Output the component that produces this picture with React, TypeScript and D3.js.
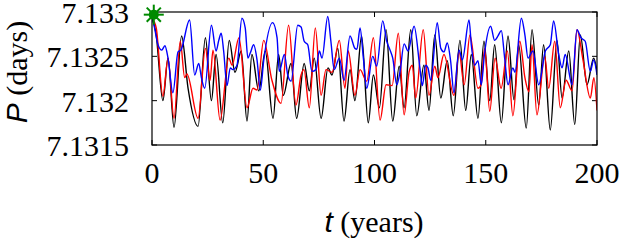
import React from 'react';
import * as d3 from 'd3';

// values: [t (years), P (days)]
const blackSeries: [number, number][] = [
  [0, 7.13293], [1.8, 7.13276], [4.9, 7.132], [7.2, 7.13248], [9.9, 7.1317], [13.3, 7.13273],
  [16.2, 7.13214], [20.7, 7.13171], [24.0, 7.13271], [26.7, 7.132], [28.8, 7.13252], [31.8, 7.13175],
  [34.7, 7.13268], [37.3, 7.13232], [40.1, 7.13256], [42.7, 7.13177], [44.9, 7.13252], [48.0, 7.13211],
  [50.9, 7.13256], [54.4, 7.1318], [56.9, 7.13252], [59.0, 7.13206], [62.5, 7.13242], [65.0, 7.1318],
  [68.4, 7.13242], [70.7, 7.13211], [72.9, 7.13248], [76.0, 7.1318], [79.1, 7.13237], [80.9, 7.13229],
  [83.5, 7.13259], [86.3, 7.13177], [89.0, 7.13235], [91.2, 7.132], [94.2, 7.13273], [97.2, 7.13175],
  [99.5, 7.13229], [102.2, 7.13192], [105.2, 7.1328], [108.2, 7.13177], [111.1, 7.13239], [113.3, 7.13192],
  [116.3, 7.1328], [119.0, 7.13183], [122.2, 7.1324], [124.5, 7.13189], [127.1, 7.13274], [129.8, 7.13203],
  [132.7, 7.13245], [135.4, 7.13183], [138.4, 7.13268], [141.0, 7.13189], [143.5, 7.13252], [146.5, 7.1318],
  [149.2, 7.13267], [151.8, 7.132], [154.0, 7.13263], [157.0, 7.13175], [160.0, 7.13273], [162.7, 7.13201],
  [164.8, 7.13263], [168.2, 7.13169], [170.8, 7.1328], [173.8, 7.13195], [176.0, 7.13263], [179.0, 7.13167],
  [182.0, 7.13268], [184.3, 7.13203], [187.3, 7.13256], [190.0, 7.13173], [192.5, 7.13274], [195.5, 7.13218],
  [198.5, 7.13248], [200, 7.13233],
];

const redSeries: [number, number][] = [
  [0, 7.13293], [1.9, 7.13282], [4.9, 7.13205], [7.2, 7.13248], [9.9, 7.1318], [12.7, 7.13267],
  [14.7, 7.13226], [15.7, 7.1323], [20.7, 7.1318], [24.0, 7.13259], [26.1, 7.13223], [27.4, 7.13257],
  [30.6, 7.13178], [34.5, 7.13248], [36.0, 7.1324], [39.1, 7.13271], [42.7, 7.13192], [45.4, 7.13214],
  [47.2, 7.13212], [50.2, 7.13268], [53.9, 7.13223], [58.0, 7.13197], [61.4, 7.13285], [64.7, 7.13195],
  [67.0, 7.13229], [68.3, 7.13235], [70.7, 7.13192], [73.4, 7.13282], [76.0, 7.13206], [78.2, 7.13235],
  [80.9, 7.13232], [84.2, 7.13268], [86.7, 7.13214], [88.2, 7.13256], [91.2, 7.13206], [93.5, 7.13235],
  [96.5, 7.13222], [99.5, 7.13271], [102.5, 7.13178], [105.2, 7.13218], [107.9, 7.13217], [110.7, 7.13276],
  [113.3, 7.13184], [115.6, 7.13233], [117.0, 7.1324], [118.5, 7.13203], [121.9, 7.1328], [124.5, 7.13206],
  [127.1, 7.13239], [128.5, 7.13226], [131.2, 7.13252], [135.7, 7.13206], [138.0, 7.13255], [140.3, 7.13218],
  [142.9, 7.13274], [146.5, 7.13214], [147.9, 7.13218], [149.5, 7.13259], [151.8, 7.13188], [154.2, 7.13248],
  [156.9, 7.13214], [159.7, 7.13256], [162.2, 7.13183], [165.3, 7.13267], [167.6, 7.13226], [169.4, 7.1321],
  [170.8, 7.13263], [173.0, 7.13184], [176.5, 7.1325], [178.3, 7.13214], [181.0, 7.13267], [183.5, 7.13192],
  [186.1, 7.13223], [188.8, 7.13211], [191.0, 7.1328], [193.7, 7.13246], [197.0, 7.13203], [198.6, 7.13226],
  [200, 7.13189],
];

const blueSeries: [number, number][] = [
  [0, 7.13298], [1.3, 7.1328], [2.7, 7.13263], [4.4, 7.13257], [5.8, 7.13262], [7.2, 7.13248],
  [9.4, 7.13209], [11.7, 7.13255], [13.0, 7.13257], [16.9, 7.13291], [19.2, 7.13229], [21.0, 7.13242],
  [22.2, 7.13226], [23.7, 7.13214], [26.7, 7.13285], [28.8, 7.13256], [30.0, 7.13268], [31.1, 7.13276],
  [32.2, 7.13256], [33.7, 7.13217], [35.2, 7.13237], [36.3, 7.13235], [38.2, 7.1324], [40.4, 7.13293],
  [41.9, 7.13282], [43.1, 7.13248], [44.2, 7.13254], [45.7, 7.13263], [47.2, 7.13246], [48.7, 7.13212],
  [50.2, 7.13245], [54.2, 7.13288], [56.2, 7.13271], [57.2, 7.13233], [59.5, 7.13252], [61.0, 7.13229],
  [62.5, 7.13222], [65.5, 7.13285], [67.0, 7.13283], [68.4, 7.13267], [70.0, 7.13263], [71.9, 7.13233],
  [73.7, 7.13235], [75.2, 7.13256], [76.4, 7.13248], [79.0, 7.13295], [80.4, 7.13267], [81.9, 7.13235],
  [84.2, 7.13248], [86.3, 7.13223], [89.0, 7.13273], [91.2, 7.13259], [92.1, 7.13258], [93.5, 7.13282],
  [95.0, 7.13248], [96.5, 7.13214], [99.2, 7.1325], [101.0, 7.13239], [103.7, 7.1329], [105.5, 7.13267],
  [107.0, 7.13257], [108.2, 7.13248], [110.0, 7.13218], [111.5, 7.13233], [113.3, 7.13264], [115.1, 7.13256],
  [117.8, 7.13284], [120.4, 7.13237], [121.5, 7.13217], [123.0, 7.1324], [124.0, 7.13237], [125.3, 7.13223],
  [128.2, 7.13288], [129.8, 7.13259], [131.2, 7.13255], [132.7, 7.13265], [134.2, 7.13245], [135.7, 7.13209],
  [138.0, 7.13257], [139.5, 7.13246], [142.5, 7.13291], [143.5, 7.13263], [145.0, 7.1324], [146.5, 7.13245],
  [148.0, 7.13218], [149.4, 7.13252], [152.2, 7.13284], [154.0, 7.13268], [155.5, 7.13273], [157.0, 7.13279],
  [158.5, 7.13248], [160.0, 7.13218], [162.2, 7.13237], [163.1, 7.13232], [166.0, 7.13293], [167.6, 7.13274],
  [169.0, 7.13248], [171.2, 7.13256], [173.8, 7.13218], [176.8, 7.13256], [179.0, 7.13263], [180.5, 7.1329],
  [182.8, 7.13252], [184.3, 7.13237], [185.7, 7.13252], [188.8, 7.13218], [191.0, 7.1328], [192.8, 7.13271],
  [194.7, 7.13267], [197.0, 7.13233], [198.5, 7.13246], [200, 7.13229],
];

// green star marker
const starPoint: [number, number] = [0.8, 7.13297];

const xTicks = [0, 50, 100, 150, 200];
const yTicks = [7.1315, 7.132, 7.1325, 7.133];
const yTickLabels = ['7.1315', '7.132', '7.1325', '7.133'];

const W = 627;
const H = 249;
const left = 152, right = 597, top = 12, bottom = 145;

const serif = "'Liberation Serif', 'Times New Roman', Times, serif";
const sans = "'Liberation Sans', Arial, Helvetica, sans-serif";

export default function App() {
  const x = d3.scaleLinear().domain([0, 200]).range([left, right]);
  const y = d3.scaleLinear().domain([7.1315, 7.133]).range([bottom, top]);

  const line = d3
    .line<[number, number]>()
    .x((d) => x(d[0]))
    .y((d) => y(d[1]))
    .curve(d3.curveMonotoneX);

  const sx = x(starPoint[0]);
  const sy = y(starPoint[1]);
  const arm = 10;

  return (
    <>
      <style>{'body{margin:0}'}</style>
      <svg width={W} height={H} style={{ display: 'block', background: '#fff' }}>
        <defs>
          <clipPath id="plot">
            <rect x={left} y={top - 10} width={right - left} height={bottom - top + 10} />
          </clipPath>
        </defs>

        {/* ticks, mirrored on all sides */}
        <g stroke="#000" strokeWidth={1}>
          {xTicks.map((t) => (
            <g key={'xt' + t}>
              <line x1={x(t)} x2={x(t)} y1={bottom} y2={bottom - 5} />
              <line x1={x(t)} x2={x(t)} y1={top} y2={top + 5} />
            </g>
          ))}
          {yTicks.map((v) => (
            <g key={'yt' + v}>
              <line x1={left} x2={left + 5} y1={y(v)} y2={y(v)} />
              <line x1={right} x2={right - 5} y1={y(v)} y2={y(v)} />
            </g>
          ))}
        </g>

        <g clipPath="url(#plot)" fill="none" strokeWidth={1.4} strokeLinejoin="round">
          <path d={line(blackSeries) || ''} stroke="#000" />
          <path d={line(redSeries) || ''} stroke="#ff0000" />
          <path d={line(blueSeries) || ''} stroke="#0000ff" />
        </g>

        <rect x={left} y={top} width={right - left} height={bottom - top} fill="none" stroke="#000" strokeWidth={1.2} />

        {/* star */}
        <g stroke="#008a00" strokeWidth={2}>
          {[0, 45, 90, 135].map((a) => {
            const r = (a * Math.PI) / 180;
            return (
              <line
                key={a}
                x1={sx - arm * Math.cos(r)}
                y1={sy - arm * Math.sin(r)}
                x2={sx + arm * Math.cos(r)}
                y2={sy + arm * Math.sin(r)}
              />
            );
          })}
        </g>
        <circle cx={sx} cy={sy} r={5} fill="#008a00" />

        {/* tick labels */}
        {xTicks.map((t) => (
          <text key={'xl' + t} x={x(t)} y={183} textAnchor="middle" style={{ fontFamily: serif, fontSize: 30 }}>
            {t}
          </text>
        ))}
        {yTicks.map((v, i) => (
          <text
            key={'yl' + v}
            x={129}
            y={y(v) + 11}
            textAnchor="end"
            style={{ fontFamily: serif, fontSize: 30 }}
          >
            {yTickLabels[i]}
          </text>
        ))}

        {/* axis titles */}
        <text x={374} y={232} textAnchor="middle" style={{ fontFamily: serif, fontSize: 30 }}>
          <tspan style={{ fontFamily: sans, fontStyle: 'italic' }}>t</tspan>
          <tspan> (years)</tspan>
        </text>
        <text transform="translate(27, 72) rotate(-90)" textAnchor="middle" style={{ fontFamily: serif, fontSize: 30 }}>
          <tspan style={{ fontFamily: sans, fontStyle: 'italic' }}>P</tspan>
          <tspan> (days)</tspan>
        </text>
      </svg>
    </>
  );
}
